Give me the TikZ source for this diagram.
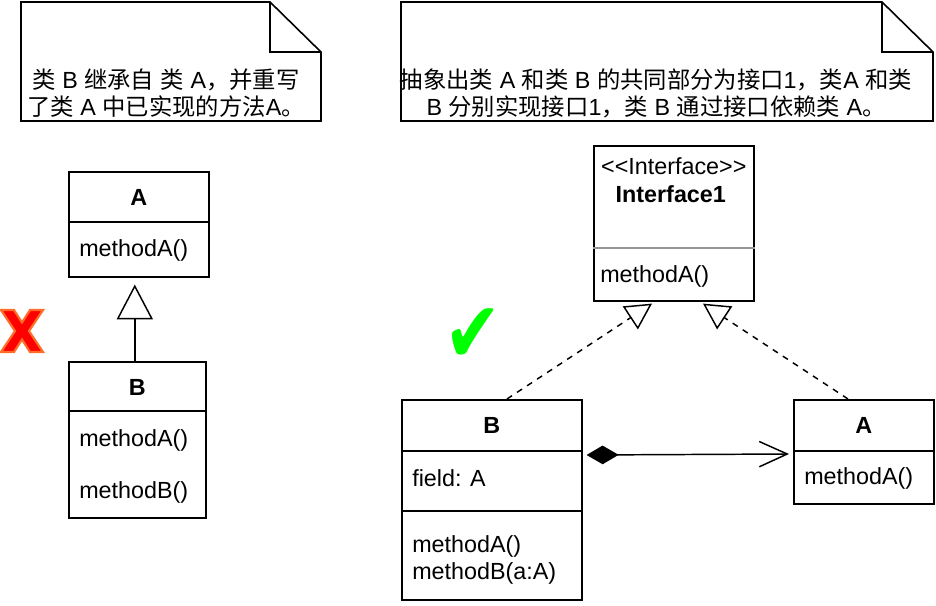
\documentclass[tikz,border=0pt]{standalone}
\usepackage{fontspec}
\usepackage{graphicx}
\setmainfont{Liberation Sans}
\newfontfamily\cjk{Noto Sans CJK SC}
\newfontfamily\dejavu{DejaVu Sans}
\usetikzlibrary{arrows.meta,calc}
\newcommand\zh[1]{{\cjk #1}}
\newcommand\fs{\fontsize{17.5pt}{20.25pt}\selectfont}
\definecolor{chkgreen}{RGB}{0,255,0}
\definecolor{xred}{RGB}{255,0,0}
\definecolor{xorange}{RGB}{255,110,40}
\definecolor{divgray}{RGB}{150,150,150}
\begin{document}
\begin{tikzpicture}[x=0.75pt,y=-0.75pt,
  box/.style={draw, line width=1.2pt, anchor=north west, inner sep=0pt, fill=white},
  cls/.style 2 args={box, minimum width=#1*0.75pt, minimum height=#2*0.75pt},
  lbl/.style={font=\fs, inner sep=0pt, anchor=west},
  ttl/.style={font=\fs\bfseries, inner sep=0pt},
  sub/.style={font=\fs, inner sep=0pt},
  divline/.style={line width=1.2pt},
  notebox/.style={draw, line width=1.2pt, line join=miter},
  notetxt/.style={font=\fs, inner sep=0pt, align=center},
  conn/.style={line width=1.1pt},
  dashconn/.style={line width=1.1pt, dash pattern=on 4.5pt off 4.5pt},
]
\useasboundingbox (0,0) rectangle (936,606);

% ---------- notes ----------
\draw[notebox] (21,2) -- (270,2) -- (321,52) -- (321,121) -- (21,121) -- cycle;
\draw[notebox] (270,2) -- (270,52) -- (321,52);
\node[notetxt] (n1) at (166,93) {\zh{类} B \zh{继承自} \zh{类} A\zh{，并重写}\\\zh{了类} A \zh{中已实现的方法}A\zh{。}};

\draw[notebox] (401,2) -- (882,2) -- (933,52) -- (933,121) -- (401,121) -- cycle;
\draw[notebox] (882,2) -- (882,52) -- (933,52);
\node[notetxt] (n2) at (656,93) {\zh{抽象出类} A \zh{和类} B \zh{的共同部分为接口}1\zh{，类}A \zh{和类}\\B \zh{分别实现接口}1\zh{，类} B \zh{通过接口依赖类} A\zh{。}};

% ---------- left classes ----------
\node[cls={140}{105}] (lA) at (68,171) {};
\draw[divline] ($(lA.north west)+(0,51)$) -- ($(lA.north east)+(0,51)$);
\node[ttl] (lAt) at ($(lA.north)+(0,26)$) {A};
\node[lbl] (lAm) at ($(lA.north west)+(11,79)$) {methodA()};

\node[cls={137}{156}] (lB) at (68,361) {};
\draw[divline] ($(lB.north west)+(0,50)$) -- ($(lB.north east)+(0,50)$);
\node[ttl] (lBt) at ($(lB.north)+(0,26)$) {B};
\node[lbl] (lBm1) at ($(lB.north west)+(11,79)$) {methodA()};
\node[lbl] (lBm2) at ($(lB.north west)+(11,131)$) {methodB()};

\coordinate (t1) at ($(lA.south)+(-4,7)$);
\draw[conn, -{Triangle[open, length=26pt, width=27pt]}] ($(lB.north)+(-2.5,0)$) -- (t1);

% ---------- red cross ----------
\filldraw[fill=xred, draw=xorange, line width=1.6pt, line join=miter]
  (1,310) -- (14,310) -- (22,322.5) -- (30,310) -- (43,310) -- (29,331)
  -- (43,352) -- (30,352) -- (22,339.5) -- (14,352) -- (1,352) -- (15,331) -- cycle;

% ---------- green check ----------
\node[text=chkgreen, inner sep=0pt] (chk) at (473,336) {\scalebox{0.8}[1]{\dejavu\fontsize{64pt}{64pt}\selectfont ✔}};

% ---------- interface ----------
\node[cls={160}{155}] (ifc) at (593,145) {};
\draw[line width=1.1pt, draw=divgray] ($(ifc.north west)+(0,103)$) -- ($(ifc.north east)+(0,103)$);
\node[sub] (ifcs) at ($(ifc.north)+(0,21)$) {{<}{<}Interface{>}{>}};
\node[ttl] (ifct) at ($(ifc.north)+(-3,49)$) {Interface1};
\node[lbl] (ifcm) at ($(ifc.north west)+(7,131)$) {methodA()};

% ---------- right classes ----------
\node[cls={180}{200}] (rB) at (401,399) {};
\draw[divline] ($(rB.north west)+(0,52)$) -- ($(rB.north east)+(0,52)$);
\draw[divline] ($(rB.north west)+(0,112)$) -- ($(rB.north east)+(0,112)$);
\node[ttl] (rBt) at ($(rB.north)+(0,26)$) {B};
\node[lbl] (rBf) at ($(rB.north west)+(11,79)$) {field: A};
\node[lbl] (rBm1) at ($(rB.north west)+(11,147)$) {methodA()};
\node[lbl] (rBm2) at ($(rB.north west)+(11,174)$) {methodB(a:A)};

\node[cls={140}{104}] (rA) at (793,399) {};
\draw[divline] ($(rA.north west)+(0,52)$) -- ($(rA.north east)+(0,52)$);
\node[ttl] (rAt) at ($(rA.north)+(0,26)$) {A};
\node[lbl] (rAm) at ($(rA.north west)+(11,79)$) {methodA()};

% ---------- connectors ----------
\draw[dashconn, -{Triangle[open, length=19.5pt, width=20.5pt]}]
  ($(rB.north west)+(106,0)$) -- ($(ifc.south west)+(59,2)$);
\draw[dashconn, -{Triangle[open, length=19.5pt, width=20.5pt]}]
  ($(rA.north west)+(55,0)$) -- ($(ifc.south west)+(110,2)$);
\draw[conn, {Diamond[length=24pt, width=14pt]}-{Straight Barb[length=21pt, width=19pt]}]
  ($(rB.north east)+(4,56)$) -- ($(rA.north west)+(-4,55)$);
\end{tikzpicture}
\end{document}
